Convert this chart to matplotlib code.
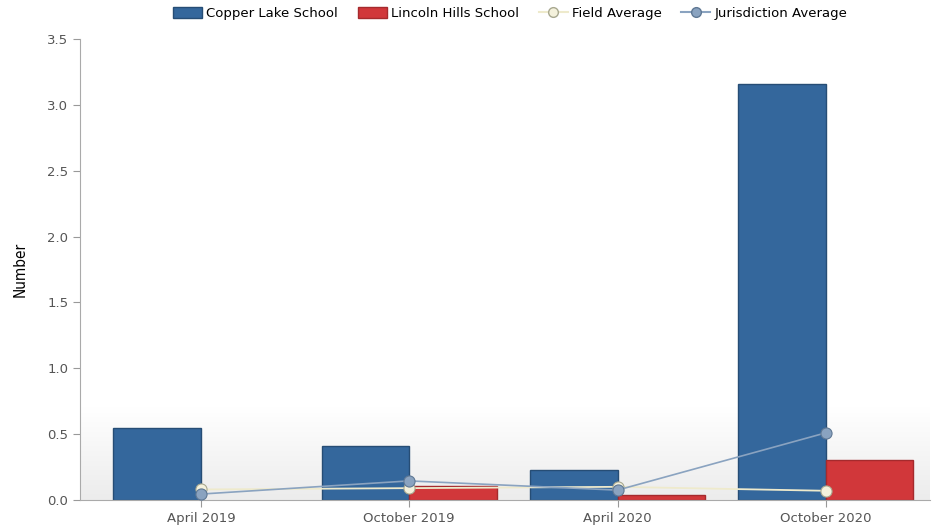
import matplotlib
matplotlib.use("Agg")
import matplotlib.pyplot as plt
import numpy as np
from matplotlib.patches import Patch
from matplotlib.lines import Line2D
from matplotlib.colors import LinearSegmentedColormap

categories = ["April 2019", "October 2019", "April 2020", "October 2020"]
copper_lake = [0.55, 0.41, 0.23, 3.16]
lincoln_hills = [0.0, 0.11, 0.04, 0.30]
field_avg = [0.08, 0.09, 0.10, 0.07]
jurisdiction_avg = [0.045, 0.145, 0.075, 0.51]

blue = "#34679c"
red = "#d1373a"
field_col = "#eeeacc"
jur_col = "#8aa3c0"
grey = "#555555"

fig = plt.figure(figsize=(9.36, 5.29), dpi=100)
ax = fig.add_axes([80 / 936, 29 / 529, 850 / 936, 461 / 529])

x = np.arange(len(categories))
w = 0.42

# soft gray gradient at the bottom of the plot area (white on top -> light gray at base)
grad = np.linspace(0, 1, 100).reshape(-1, 1)
cmap = LinearSegmentedColormap.from_list("g", ["#ffffff", "#ececec"])
ax.imshow(grad, extent=[0, 1, 0, 0.2], transform=ax.transAxes, aspect="auto",
          cmap=cmap, origin="upper", zorder=0)

b1 = ax.bar(x - w / 2, copper_lake, w, color=blue, edgecolor="#264d75", linewidth=1, zorder=2)
b2 = ax.bar(x + w / 2, lincoln_hills, w, color=red, edgecolor="#a52a2d", linewidth=1, zorder=2)
for p in list(b1) + list(b2):
    if p.get_height() == 0:
        p.set_visible(False)

ax.plot(x, field_avg, color=field_col, lw=1.3, marker="o", ms=8,
        mfc="#f4f1dc", mec="#a8a890", mew=0.8, zorder=3)
ax.plot(x, jurisdiction_avg, color=jur_col, lw=1.2, marker="o", ms=8,
        mfc=jur_col, mec="#5f7894", mew=0.8, zorder=4)

ax.set_xlim(-0.58, 3.5)
ax.set_ylim(0, 3.5)
ax.set_yticks(np.arange(0, 3.51, 0.5))
ax.set_yticklabels([f"{v:.1f}" for v in np.arange(0, 3.51, 0.5)])
ax.set_xticks(x)
ax.set_xticklabels(categories)
ax.tick_params(axis="both", colors="#999999", labelcolor=grey, labelsize=9.5, length=5)
ax.set_ylabel("Number", fontsize=11, fontfamily="DejaVu Sans", fontstretch="condensed",
              labelpad=14)

for s in ["top", "right"]:
    ax.spines[s].set_visible(False)
ax.spines["left"].set_color("#aaaaaa")
ax.spines["bottom"].set_color("#aaaaaa")

handles = [
    Patch(facecolor=blue, edgecolor="#264d75", label="Copper Lake School"),
    Patch(facecolor=red, edgecolor="#a52a2d", label="Lincoln Hills School"),
    Line2D([], [], color=field_col, marker="o", ms=7, mfc="#f4f1dc", mec="#a8a890", label="Field Average"),
    Line2D([], [], color=jur_col, marker="o", ms=7, mfc=jur_col, mec="#5f7894", label="Jurisdiction Average"),
]
fig.legend(handles=handles, loc="upper center", bbox_to_anchor=(0.545, 1.01), ncol=4,
           frameon=False, fontsize=9.5, handlelength=2.2, handleheight=0.9,
           columnspacing=1.5, handletextpad=0.3)

fig.savefig("out.png", dpi=100)
